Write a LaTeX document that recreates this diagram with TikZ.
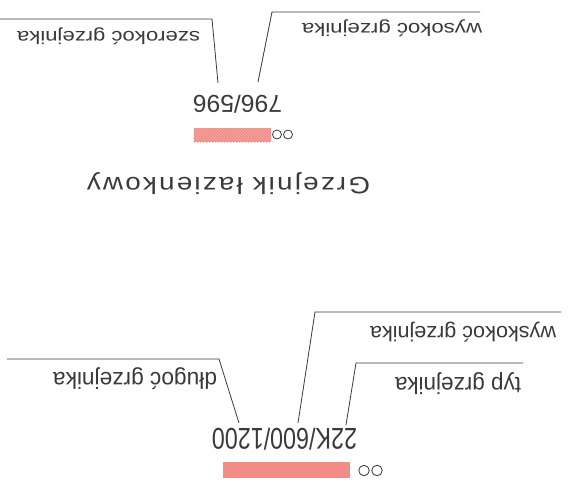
\documentclass[tikz,border=0pt]{standalone}
\usepackage{fontspec}
\usepackage{graphicx}
\setmainfont{Liberation Sans}
\usetikzlibrary{patterns}
\definecolor{ink}{HTML}{3A3A3A}
\definecolor{salmon}{HTML}{F28C86}
\newcommand{\fitbox}[3]{\resizebox*{#1pt}{#2pt}{#3}}
\begin{document}
\begin{tikzpicture}[x=1pt,y=-1pt,
  lbl/.style={inner sep=0pt, outer sep=0pt, rotate=180, text=ink},
  leader/.style={draw=ink, line width=0.8pt},
  ring/.style={circle, draw=ink, line width=0.8pt, inner sep=0pt},
  bar/.style={fill=salmon, draw=none, inner sep=0pt, outer sep=0pt, anchor=north west}]
\fill[white] (0,0) rectangle (576,488);
\useasboundingbox (0,0) rectangle (576,488);

% ---------- top group ----------
\node[lbl] (szer1) at (108.5,36.5) {\fitbox{183}{17}{szerokoć grzejnika}};
\node[lbl] (wys1) at (392,28.5) {\fitbox{180}{17}{wysokoć grzejnika}};
\node[lbl] (num1) at (237.5,104) {\fitbox{89}{18}{796/596}};
\node[bar, minimum width=77pt, minimum height=14pt,
  postaction={pattern=north west lines, pattern color=white!30!salmon}] (bar1) at (193.5,128) {};
\node[ring, minimum size=9pt] (r1a) at (277,134.5) {};
\node[ring, minimum size=9pt] (r1b) at (288,134.5) {};
\node[lbl] (title) at (228.5,184) {\fitbox{283}{22}{\addfontfeature{LetterSpace=8}Grzejnik łazienkowy}};

\coordinate (a1) at (0,19);
\coordinate (a2) at (212,19);
\coordinate (a3) at (218,83);
\draw[leader] (a1) -- (a2) -- (a3);
\coordinate (b1) at (480,12);
\coordinate (b2) at (272,12);
\coordinate (b3) at (258,82);
\draw[leader] (b1) -- (b2) -- (b3);

% ---------- bottom group ----------
\node[lbl] (dl2) at (135,379) {\fitbox{164}{22}{długoć grzejnika}};
\node[lbl] (wys2) at (463,332) {\fitbox{186}{20}{wyskokoć grzejnika}};
\node[lbl] (typ2) at (458,384) {\fitbox{126}{22}{typ grzejnika}};
\node[lbl] (num2) at (284.5,439) {\fitbox{145}{22}{22K/600/1200}};
\node[bar, minimum width=127pt, minimum height=16pt] (bar2) at (223,462) {};
\node[ring, minimum size=10.5pt] (r2a) at (364,470.5) {};
\node[ring, minimum size=10.5pt] (r2b) at (377,470.5) {};

\coordinate (c1) at (7,359);
\coordinate (c2) at (219,359);
\coordinate (c3) at (239,423);
\draw[leader] (c1) -- (c2) -- (c3);
\coordinate (d1) at (561,312);
\coordinate (d2) at (315,312);
\coordinate (d3) at (298,423);
\draw[leader] (d1) -- (d2) -- (d3);
\coordinate (e1) at (523,363);
\coordinate (e2) at (356,363);
\coordinate (e3) at (346,425);
\draw[leader] (e1) -- (e2) -- (e3);
\end{tikzpicture}
\end{document}
